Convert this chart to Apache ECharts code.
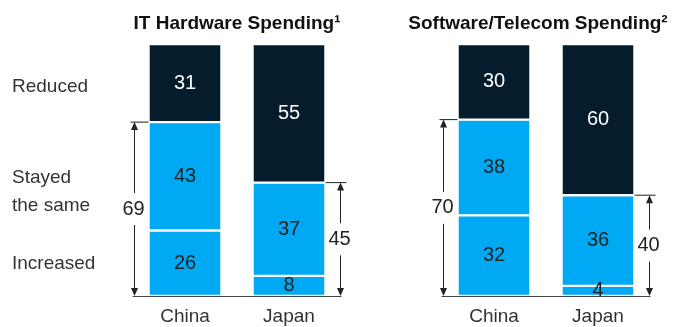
<!DOCTYPE html>
<html>
<head>
<meta charset="utf-8">
<script src="https://cdn.jsdelivr.net/npm/echarts@6/dist/echarts.min.js"></script>
<style>
  html, body { margin: 0; padding: 0; background: #fff; }
  #chart { width: 680px; height: 327px; }
</style>
</head>
<body>
<div id="chart"></div>
<script>
// Share of respondents (%) by spending change, per country
const countries = ['China', 'Japan'];

const hwIncreased = [26, 8];
const hwStayed    = [43, 37];
const hwReduced   = [31, 55];

const swIncreased = [32, 4];
const swStayed    = [38, 36];
const swReduced   = [30, 60];

const panelTitles = ['IT Hardware Spending\u00B9', 'Software/Telecom Spending\u00B2'];
const rowLabels = ['Reduced', 'Stayed\nthe same', 'Increased'];

const NAVY = '#051C2C';
const CYAN = '#00A9F4';
const INK = '#222222';
const FONT = 'Liberation Sans, Arial, sans-serif';
const BAR_W = 73;

// Bracket totals: "increased + stayed the same" for each country
function totals(inc, stay) { return inc.map((v, i) => v + stay[i]); }

function bracketData(inc, stay) {
  const t = totals(inc, stay);
  // [category index, total, side: -1 = left of bar, 1 = right of bar]
  return t.map((v, i) => [i, v, i === 0 ? -1 : 1]);
}

function renderBracket(params, api) {
  const cat = api.value(0), v = api.value(1), side = api.value(2);
  const top = api.coord([cat, v]);
  const base = api.coord([cat, 0]);
  const band = api.size([1, 0])[0];
  const x = Math.round(top[0] + side * band * 0.49) + 0.5;
  const barEdge = top[0] + side * BAR_W / 2;
  const yTop = top[1], yBot = base[1];
  const mid = (yTop + yBot) / 2;
  const gap = 16;
  const ah = 8, aw = 3.5;
  const stroke = { stroke: INK, lineWidth: 1 };
  const tickStart = side < 0 ? x - 4 : barEdge;
  const tickEnd = side < 0 ? barEdge : x + 6;
  return {
    type: 'group',
    children: [
      { type: 'line', shape: { x1: tickStart, y1: yTop, x2: tickEnd, y2: yTop }, style: stroke },
      { type: 'line', shape: { x1: x, y1: yTop + 2, x2: x, y2: mid - gap }, style: stroke },
      { type: 'line', shape: { x1: x, y1: mid + gap, x2: x, y2: yBot - 2 }, style: stroke },
      { type: 'polygon', shape: { points: [[x, yTop], [x - aw, yTop + ah], [x + aw, yTop + ah]] }, style: { fill: INK } },
      { type: 'polygon', shape: { points: [[x, yBot], [x - aw, yBot - ah], [x + aw, yBot - ah]] }, style: { fill: INK } },
      { type: 'text', style: { text: String(v), x: x - 1, y: mid, align: 'center', verticalAlign: 'middle',
          fill: INK, font: '20px ' + FONT } }
    ]
  };
}

function barSeries(name, data, color, textColor, idx) {
  return {
    name: name,
    type: 'bar',
    stack: 'p' + idx,
    xAxisIndex: idx,
    yAxisIndex: idx,
    barWidth: BAR_W,
    data: data,
    itemStyle: { color: color, borderColor: '#fff', borderWidth: 1.2 },
    label: { show: true, position: 'inside', color: textColor, fontSize: 20, fontFamily: FONT },
    emphasis: { disabled: true }
  };
}

const grids = [
  { left: 133, top: 44, width: 208, height: 252 },
  { left: 442, top: 44, width: 208, height: 252 }
];

const option = {
  animation: false,
  backgroundColor: '#fff',
  textStyle: { fontFamily: FONT },
  title: [
    { text: panelTitles[0], left: 232, top: 9, textAlign: 'center',
      textStyle: { fontSize: 19, fontWeight: 'bold', color: '#111', fontFamily: FONT } },
    { text: panelTitles[1], left: 533, top: 9, textAlign: 'center',
      textStyle: { fontSize: 19, fontWeight: 'bold', color: '#111', fontFamily: FONT } }
  ],
  grid: grids,
  xAxis: [0, 1].map(i => ({
    type: 'category', gridIndex: i, data: countries,
    axisLine: { lineStyle: { color: '#444', width: 1 } },
    axisTick: { show: false },
    axisLabel: { color: '#333', fontSize: 19, margin: 11, fontFamily: FONT }
  })),
  yAxis: [0, 1].map(i => ({
    type: 'value', gridIndex: i, min: 0, max: 100, show: false
  })),
  series: [
    barSeries('Increased', hwIncreased, CYAN, INK, 0),
    barSeries('Stayed the same', hwStayed, CYAN, INK, 0),
    barSeries('Reduced', hwReduced, NAVY, '#fff', 0),
    barSeries('Increased', swIncreased, CYAN, INK, 1),
    barSeries('Stayed the same', swStayed, CYAN, INK, 1),
    barSeries('Reduced', swReduced, NAVY, '#fff', 1),
    { type: 'custom', xAxisIndex: 0, yAxisIndex: 0, clip: false, z: 5,
      data: bracketData(hwIncreased, hwStayed), renderItem: renderBracket, silent: true },
    { type: 'custom', xAxisIndex: 1, yAxisIndex: 1, clip: false, z: 5,
      data: bracketData(swIncreased, swStayed), renderItem: renderBracket, silent: true }
  ],
  graphic: [
    { type: 'text', left: 12, top: 77, style: { text: rowLabels[0], fill: '#333', font: '19px ' + FONT } },
    { type: 'text', left: 12, top: 164, style: { text: rowLabels[1], fill: '#333', font: '19px ' + FONT, lineHeight: 28 } },
    { type: 'text', left: 12, top: 254, style: { text: rowLabels[2], fill: '#333', font: '19px ' + FONT } }
  ]
};

const chart = echarts.init(document.getElementById('chart'), null, { renderer: 'canvas' });
chart.setOption(option);
</script>
</body>
</html>
